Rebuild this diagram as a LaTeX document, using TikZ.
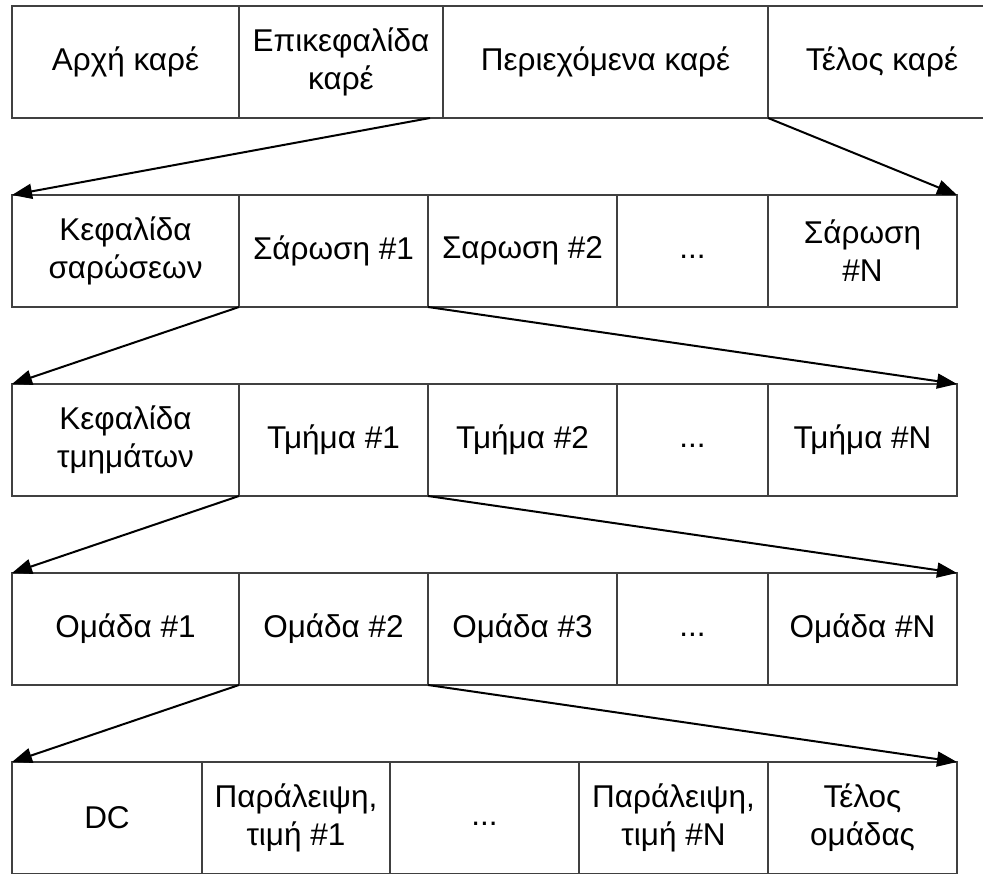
\documentclass[tikz,border=0pt]{standalone}
\usepackage{fontspec}
\setmainfont{Liberation Sans}
\usetikzlibrary{arrows.meta}

\tikzset{
	cell/.style = {draw = black!75, line width = 1.5pt, minimum height = 112pt, inner sep = 0pt, outer sep = 0pt, align = center, anchor = north west, font = \fontsize{31.5}{38}\selectfont},
	link/.style = {-{Triangle[length = 20pt, width = 15pt]}, line width = 2pt}
}

\begin{document}
\begin{tikzpicture}[x = 1pt, y = -1pt]
	\useasboundingbox (0,0) rectangle (983,874);
	% frame
	\node [cell, minimum width = 227pt] (fStart) at (12,6) {Αρχή καρέ};
	\node [cell, minimum width = 204pt] (fHead) at (239,6) {Επικεφαλίδα\\καρέ};
	\node [cell, minimum width = 325pt] (fBody) at (443,6) {Περιεχόμενα καρέ};
	\node [cell, minimum width = 228pt] (fEnd) at (768,6) {Τέλος καρέ};
	% scans
	\node [cell, minimum width = 227pt] (sHead) at (12,195) {Κεφαλίδα\\σαρώσεων};
	\node [cell, minimum width = 189pt] (s1) at (239,195) {Σάρωση \#1};
	\node [cell, minimum width = 189pt] (s2) at (428,195) {Σαρωση \#2};
	\node [cell, minimum width = 151pt] (sDots) at (617,195) {\strut...};
	\node [cell, minimum width = 189pt] (sN) at (768,195) {Σάρωση\\\#N};
	% segments
	\node [cell, minimum width = 227pt] (tHead) at (12,384) {Κεφαλίδα\\τμημάτων};
	\node [cell, minimum width = 189pt] (t1) at (239,384) {Τμήμα \#1};
	\node [cell, minimum width = 189pt] (t2) at (428,384) {Τμήμα \#2};
	\node [cell, minimum width = 151pt] (tDots) at (617,384) {\strut...};
	\node [cell, minimum width = 189pt] (tN) at (768,384) {Τμήμα \#N};
	% groups
	\node [cell, minimum width = 227pt] (g1) at (12,573) {Ομάδα \#1};
	\node [cell, minimum width = 189pt] (g2) at (239,573) {Ομάδα \#2};
	\node [cell, minimum width = 189pt] (g3) at (428,573) {Ομάδα \#3};
	\node [cell, minimum width = 151pt] (gDots) at (617,573) {\strut...};
	\node [cell, minimum width = 189pt] (gN) at (768,573) {Ομάδα \#N};
	% group content
	\node [cell, minimum width = 190pt] (dc) at (12,762) {DC};
	\node [cell, minimum width = 188pt] (run1) at (202,762) {Παράλειψη,\\τιμή \#1};
	\node [cell, minimum width = 189pt] (cDots) at (390,762) {\strut...};
	\node [cell, minimum width = 189pt] (runN) at (579,762) {Παράλειψη,\\τιμή \#N};
	\node [cell, minimum width = 189pt] (gEnd) at (768,762) {Τέλος\\ομάδας};

	\draw [link] ([xshift = -13pt] fHead.south east) -- (sHead.north west);
	\draw [link] (fEnd.south west) -- (sN.north east);
	\draw [link] (s1.south west) -- (tHead.north west);
	\draw [link] (s2.south west) -- (tN.north east);
	\draw [link] (t1.south west) -- (g1.north west);
	\draw [link] (t2.south west) -- (gN.north east);
	\draw [link] (g2.south west) -- (dc.north west);
	\draw [link] (g3.south west) -- (gEnd.north east);
\end{tikzpicture}
\end{document}
